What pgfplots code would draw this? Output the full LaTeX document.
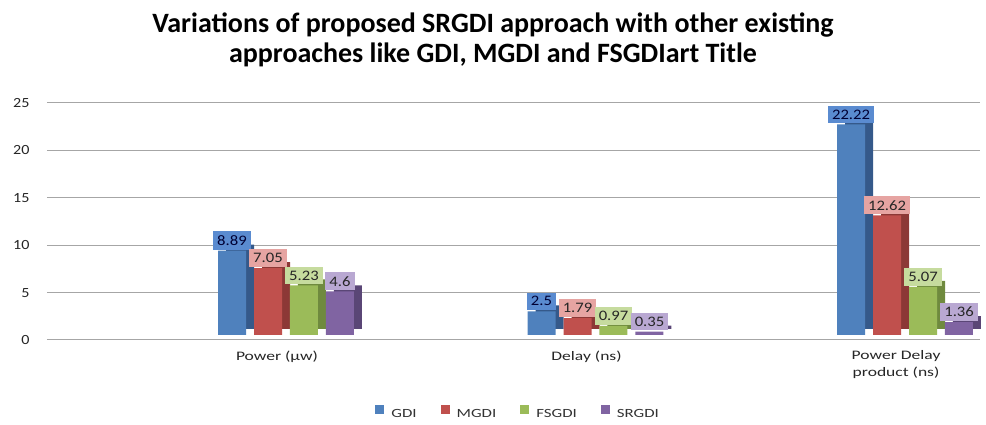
\documentclass[border=0pt]{standalone}
\usepackage{pgfplots}
\pgfplotsset{compat=1.18}
\usepackage{fontspec}
\setmainfont{Carlito}
\newfontfamily\widefont{Carlito}[FakeStretch=1.35]
\newfontfamily\midfont{Carlito}[FakeStretch=1.15]
\definecolor{gdiF}{HTML}{4F81BD}
\definecolor{gdiS}{HTML}{35598A}
\definecolor{gdiL}{HTML}{5A8BD0}
\definecolor{mgdiF}{HTML}{C0504D}
\definecolor{mgdiS}{HTML}{8C3836}
\definecolor{mgdiL}{HTML}{E6A4A2}
\definecolor{fsF}{HTML}{9BBB59}
\definecolor{fsS}{HTML}{6F8A3E}
\definecolor{fsL}{HTML}{C6DB9E}
\definecolor{srF}{HTML}{8064A2}
\definecolor{srS}{HTML}{5A4676}
\definecolor{srL}{HTML}{B9A8D2}
\definecolor{gridc}{HTML}{A6A6A6}
\pgfplotsset{
  backbar/.style={ybar, bar width=0.0905, bar shift=#1, draw=none, xshift=8pt, yshift=11pt, forget plot, nodes near coords={}},
  frontbar/.style={ybar, bar width=0.0905, bar shift=#1, draw=none, yshift=5pt},
}
\begin{document}
\begin{tikzpicture}
\useasboundingbox (0,0) rectangle (986pt,425pt);
\begin{axis}[
  at={(47pt,85pt)}, anchor=south west,
  width=933pt, height=237pt, scale only axis,
  ymin=0, ymax=25, ytick={0,5,...,25},
  xmin=-0.772, xmax=2.242,
  xtick={0,1,2},
  xticklabels={Power (µw), Delay (ns), {Power Delay\\product (ns)}},
  xticklabel style={align=center, font=\widefont\fontsize{13}{17}\selectfont, text=black!85, yshift=-7pt, xshift=-9pt},
  yticklabel style={font=\midfont\fontsize{14}{14}\selectfont, text=black!85, xshift=-14pt},
  /pgf/number format/assume math mode=true,
  ymajorgrids, grid style={gridc, line width=1pt},
  axis line style={draw=none},
  major tick length=0pt,
  clip=false,
  title={Variations of proposed SRGDI approach with other existing\\approaches like GDI, MGDI and FSGDIart Title},
  title style={at={(axis description cs:0.478,1.24)}, anchor=center, align=center, font=\fontsize{28}{30}\selectfont\bfseries},
  legend style={at={(axis description cs:0.505,-0.308)}, anchor=center, draw=none, font=\widefont\fontsize{12.5}{12.5}\selectfont, text=black!80, /tikz/every odd column/.append style={column sep=5pt}, /tikz/every even column/.append style={column sep=22pt}},
  legend columns=4,
  legend image code/.code={\fill[#1] (0pt,-4.5pt) rectangle (9pt,4.5pt);},
  nodes near coords,
  every node near coord/.append style={font=\midfont\fontsize{14.5}{14.5}\selectfont, inner xsep=4pt, inner ysep=4pt, anchor=south, text=black!85, yshift=1pt},
]
\addplot[backbar=-0.174, fill=gdiS] coordinates {(0,8.89) (1,2.5) (2,22.22)};
\addplot[frontbar=-0.174, fill=gdiF, every node near coord/.append style={fill=gdiL, text=black!80!blue, xshift=-54pt}] coordinates {(0,8.89) (1,2.5) (2,22.22)};
\addlegendentry{GDI}
\addplot[backbar=-0.058, fill=mgdiS] coordinates {(0,7.05) (1,1.79) (2,12.62)};
\addplot[frontbar=-0.058, fill=mgdiF, every node near coord/.append style={fill=mgdiL, xshift=-18pt}] coordinates {(0,7.05) (1,1.79) (2,12.62)};
\addlegendentry{MGDI}
\addplot[backbar=0.058, fill=fsS] coordinates {(0,5.23) (1,0.97) (2,5.07)};
\addplot[frontbar=0.058, fill=fsF, every node near coord/.append style={fill=fsL, xshift=18pt}] coordinates {(0,5.23) (1,0.97) (2,5.07)};
\addlegendentry{FSGDI}
\addplot[backbar=0.174, fill=srS] coordinates {(0,4.6) (1,0.35) (2,1.36)};
\addplot[frontbar=0.174, fill=srF, every node near coord/.append style={fill=srL, xshift=54pt}] coordinates {(0,4.6) (1,0.35) (2,1.36)};
\addlegendentry{SRGDI}
\end{axis}
\end{tikzpicture}
\end{document}
